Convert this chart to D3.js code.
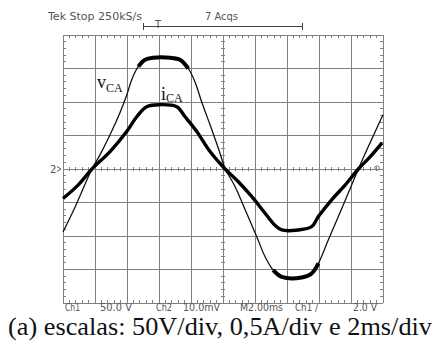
<!DOCTYPE html>
<html>
<head>
<meta charset="utf-8">
<script src="https://cdn.jsdelivr.net/npm/d3@7"></script>
<style>
  body { margin: 0; background: #fff; }
  svg { display: block; }
  .scope { font-family: "DejaVu Sans", sans-serif; font-size: 10px; fill: #555; }
  .serif { font-family: "Liberation Serif", "Times New Roman", serif; fill: #111; }
</style>
</head>
<body>
<svg id="chart" width="434" height="347"></svg>
<script>
// time axis in ms (2 ms/div), voltage 50 V/div, current 0.5 A/div
const vTime = [0, 0.75, 1.81, 2.31, 2.94, 3.56, 3.98, 4.29, 4.71, 5.13, 5.64, 6.69, 7.31, 7.83, 8.25, 8.67, 9.19, 9.71, 10.15, 10.75, 11.48, 12.11, 12.63, 13.14, 13.67, 14.92, 15.54, 15.96, 16.58, 17.21, 17.83, 18.46, 19.19, 20];
const vValues = [-94, -57, 0, 21, 51, 84, 110, 133, 153, 163, 166, 166, 163, 150, 130, 100, 66, 31, 0, -26, -66, -101, -131, -151, -161, -162, -156, -141, -106, -71, -36, 0, 39, 81];

const iTime = [0, 0.94, 1.81, 2.94, 3.98, 4.61, 5.23, 6.06, 7.11, 7.63, 8.36, 9.19, 10.13, 10.96, 11.79, 12.63, 13.25, 13.67, 14.71, 15.54, 15.96, 16.79, 17.63, 18.46, 19.19, 19.94];
const iValues = [-0.44, -0.24, 0, 0.26, 0.56, 0.78, 0.93, 0.96, 0.93, 0.78, 0.56, 0.26, 0, -0.19, -0.41, -0.66, -0.84, -0.91, -0.91, -0.86, -0.71, -0.46, -0.24, 0, 0.18, 0.39];

const headerLabels = ["Tek Stop  250kS/s", "7 Acqs"];
const footerLabels = ["Ch1", "50.0 V", "Ch2", "10.0mV", "M2.00ms", "Ch1 \u2215", "2.0 V"];
const caption = "(a) escalas: 50V/div, 0,5A/div e 2ms/div";

const svg = d3.select("#chart");
svg.append("rect").attr("width", 434).attr("height", 347).attr("fill", "#fff");

const x = d3.scaleLinear().domain([0, 20]).range([63, 383]);
const yV = d3.scaleLinear().domain([-200, 200]).range([303, 35]);
const yI = d3.scaleLinear().domain([-2, 2]).range([303, 35]);

const grid = svg.append("g").attr("stroke", "#808080").attr("stroke-width", 1).attr("shape-rendering", "crispEdges");

// major divisions
d3.range(0, 20.01, 2).forEach(t => {
  grid.append("line").attr("x1", x(t)).attr("x2", x(t)).attr("y1", yV(200)).attr("y2", yV(-200));
});
d3.range(-200, 200.01, 50).forEach(v => {
  grid.append("line").attr("x1", x(0)).attr("x2", x(20)).attr("y1", yV(v)).attr("y2", yV(v));
});

// minor ticks on the border and the centre lines
const minorX = d3.range(0, 20.01, 0.4);
const minorY = d3.range(-200, 200.01, 10);
minorX.forEach(t => {
  grid.append("line").attr("x1", x(t)).attr("x2", x(t)).attr("y1", yV(200)).attr("y2", yV(200) + 3);
  grid.append("line").attr("x1", x(t)).attr("x2", x(t)).attr("y1", yV(-200)).attr("y2", yV(-200) - 3);
  grid.append("line").attr("x1", x(t)).attr("x2", x(t)).attr("y1", yV(0) - 2).attr("y2", yV(0) + 2);
});
minorY.forEach(v => {
  grid.append("line").attr("x1", x(0)).attr("x2", x(0) + 3).attr("y1", yV(v)).attr("y2", yV(v));
  grid.append("line").attr("x1", x(20)).attr("x2", x(20) - 3).attr("y1", yV(v)).attr("y2", yV(v));
  grid.append("line").attr("x1", x(10) - 2).attr("x2", x(10) + 2).attr("y1", yV(v)).attr("y2", yV(v));
});

// ground / trigger markers
svg.append("text").attr("class", "scope").attr("x", 50).attr("y", yV(0) + 3.5).text("2");
svg.append("path").attr("d", `M${x(0) - 6},${yV(0) - 2.5} L${x(0) - 2},${yV(0)} L${x(0) - 6},${yV(0) + 2.5}`)
  .attr("fill", "none").attr("stroke", "#555");
svg.append("circle").attr("cx", x(20) - 6).attr("cy", yV(0) - 1).attr("r", 2.2)
  .attr("fill", "none").attr("stroke", "#777");

// header
const headerX = [48, 205], headerW = [94, 33];
headerLabels.forEach((s, k) => {
  svg.append("text").attr("class", "scope").attr("x", headerX[k]).attr("y", 20)
    .attr("textLength", headerW[k]).attr("lengthAdjust", "spacingAndGlyphs").text(s);
});
const hdr = svg.append("g").attr("stroke", "#444").attr("stroke-width", 1).attr("shape-rendering", "crispEdges");
hdr.append("line").attr("x1", 143).attr("x2", 302).attr("y1", 26.5).attr("y2", 26.5);
hdr.append("line").attr("x1", 143).attr("x2", 143).attr("y1", 23).attr("y2", 30);
hdr.append("line").attr("x1", 302).attr("x2", 302).attr("y1", 23).attr("y2", 30);
svg.append("text").attr("class", "scope").attr("x", 155).attr("y", 28).text("T");

// footer labels
const footerX = [65, 100, 156, 183, 240, 295, 353];
const footerW = [15, 32, 16, 37, 43, 23, 24];
footerLabels.forEach((s, k) => {
  svg.append("text").attr("class", "scope").attr("x", footerX[k]).attr("y", 311)
    .attr("textLength", footerW[k]).attr("lengthAdjust", "spacingAndGlyphs").text(s);
});

// traces
const vData = vTime.map((t, k) => [t, vValues[k]]);
const iData = iTime.map((t, k) => [t, iValues[k]]);

const vLine = d3.line().x(d => x(d[0])).y(d => yV(d[1])).curve(d3.curveCatmullRom.alpha(0.5));
const iLine = d3.line().x(d => x(d[0])).y(d => yI(d[1])).curve(d3.curveCatmullRom.alpha(0.5));

svg.append("path").datum(vData).attr("d", vLine)
  .attr("fill", "none").attr("stroke", "#111").attr("stroke-width", 1.3);
// noisier plateaus of the voltage trace
svg.append("path").datum(vData).attr("d", vLine.defined(d => Math.abs(d[1]) >= 140))
  .attr("fill", "none").attr("stroke", "#000").attr("stroke-width", 4);

svg.append("path").datum(iData).attr("d", iLine)
  .attr("fill", "none").attr("stroke", "#000").attr("stroke-width", 3.4).attr("stroke-linejoin", "round");

// trace labels
const vLab = svg.append("text").attr("class", "serif").attr("x", 97).attr("y", 88);
vLab.append("tspan").attr("font-size", 18).text("v");
vLab.append("tspan").attr("font-size", 12).attr("dy", 4).text("CA");
const iLab = svg.append("text").attr("class", "serif").attr("x", 161).attr("y", 100);
iLab.append("tspan").attr("font-size", 18).text("i");
iLab.append("tspan").attr("font-size", 12).attr("dy", 2).text("CA");

// caption
svg.append("text").attr("class", "serif").attr("x", 8).attr("y", 335)
  .attr("font-size", 26).attr("textLength", 424).attr("lengthAdjust", "spacingAndGlyphs").text(caption);
</script>
</body>
</html>
